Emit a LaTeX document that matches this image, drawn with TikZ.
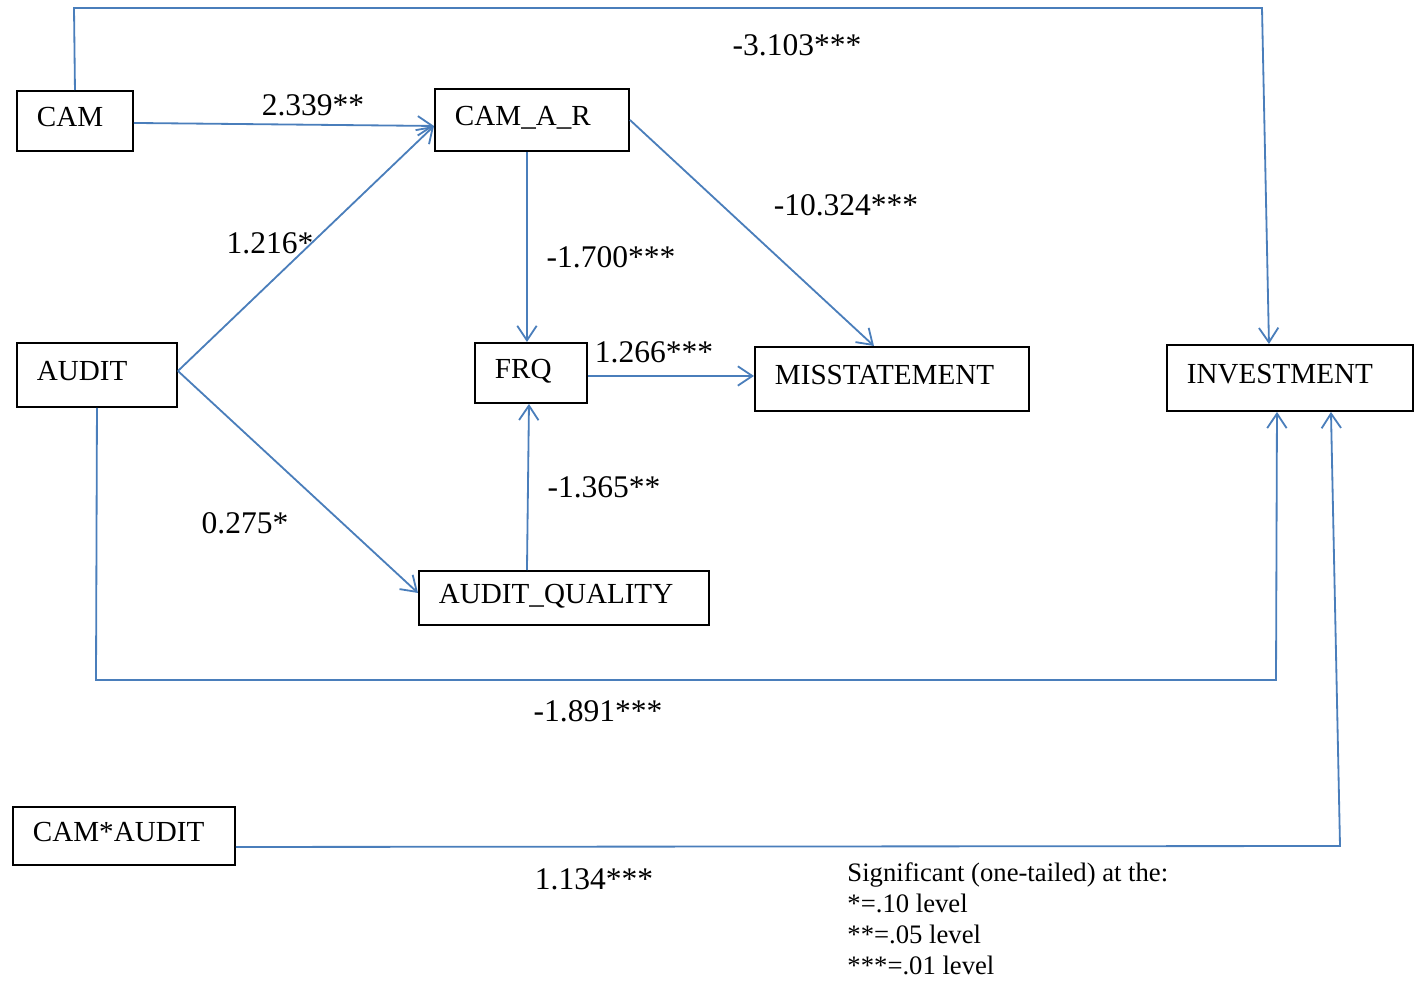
\documentclass[tikz,border=0pt]{standalone}
\usepackage{fontspec}
\setmainfont{Liberation Serif}
\usetikzlibrary{arrows.meta}

\definecolor{lnblue}{HTML}{4A7EBB}
\newcommand{\upx}{0.0145cm}

\tikzset{
	box/.style 2 args={draw, line width=0.8pt, anchor=north west,
		inner xsep=20*\upx, inner ysep=0pt, text depth=9*\upx,
		minimum width=#1*\upx, minimum height=#2*\upx,
		/utils/exec={\pgfmathsetlengthmacro\boxtw{(#1-40)*\upx}},
		text width=\boxtw, align=left, font=\fontsize{12}{14}\selectfont},
	link/.style={draw=lnblue, line width=0.75pt},
	linkarr/.style={link, -{Straight Barb[length=6pt,width=8pt]}},
	coef/.style={font=\fontsize{13}{15}\selectfont}
}

\begin{document}
\begin{tikzpicture}[x=\upx, y=-\upx]
	
	\useasboundingbox (0,0) rectangle (1416,987);
	
	\node[box={116}{60}] (cam) at (16,90) {CAM};
	
	\node[box={194}{62}] (car) at (434,88) {CAM\_A\_R};
	
	\node[box={160}{64}] (audit) at (16,342) {AUDIT};
	
	\node[box={112}{60}] (frq) at (474,342) {FRQ};
	
	\node[box={274}{64}] (mis) at (754,346) {MISSTATEMENT};
	
	\node[box={246}{66}] (inv) at (1166,344) {INVESTMENT};
	
	\node[box={290}{54}] (aq) at (418,570) {AUDIT\_QUALITY};
	
	\node[box={222}{58}] (ca) at (12,806) {CAM*AUDIT};
	
	\coordinate (t1) at (74,8);
	\coordinate (t2) at (1262,8);
	\coordinate (b1) at (96,680);
	\coordinate (b2) at (1276,680);
	\coordinate (c1) at (1340,846);
	
	\node[coef] (k1) at (797,45) {-3.103***};
	\node[coef] (k2) at (313,105) {2.339**};
	\node[coef] (k3) at (270,243) {1.216*};
	\node[coef] (k4) at (245,523) {0.275*};
	\node[coef] (k5) at (611,257) {-1.700***};
	\node[coef] (k6) at (846,205) {-10.324***};
	\node[coef] (k7) at (654,352) {1.266***};
	\node[coef] (k8) at (604,487) {-1.365**};
	\node[coef] (k9) at (598,711) {-1.891***};
	\node[coef] (k10) at (594,879) {1.134***};
	
	\node[anchor=north west, align=left, inner sep=0pt,
		font=\fontsize{11}{12.8}\selectfont] (note) at (847,862)
		{Significant (one-tailed) at the:\\{}*=.10 level\\{}**=.05 level\\{}***=.01 level};
	
	\draw[linkarr] (cam.north) -- (t1) -- (t2) -- ([xshift=-21*\upx]inv.north);
	\draw[linkarr] ([yshift=-2*\upx]cam.east) -- ([yshift=-6*\upx]car.west);
	\draw[linkarr] ([yshift=4*\upx]audit.east) -- ([yshift=-6*\upx]car.west);
	\draw[linkarr] ([yshift=4*\upx]audit.east) -- ([yshift=5*\upx]aq.west);
	\draw[linkarr] ([xshift=-5*\upx]car.south) -- ([xshift=-4*\upx]frq.north);
	\draw[linkarr] (car.east) -- ([xshift=-18*\upx]mis.north);
	\draw[linkarr] ([yshift=-3*\upx]frq.east) -- ([yshift=3*\upx]mis.west);
	\draw[linkarr] ([xshift=-37*\upx]aq.north) -- ([xshift=-2*\upx]frq.south);
	\draw[linkarr] (audit.south) -- (b1) -- (b2) -- ([xshift=-13*\upx]inv.south);
	\draw[linkarr] ([yshift=-11*\upx]ca.east) -- (c1) -- ([xshift=41*\upx]inv.south);
	
\end{tikzpicture}
\end{document}
